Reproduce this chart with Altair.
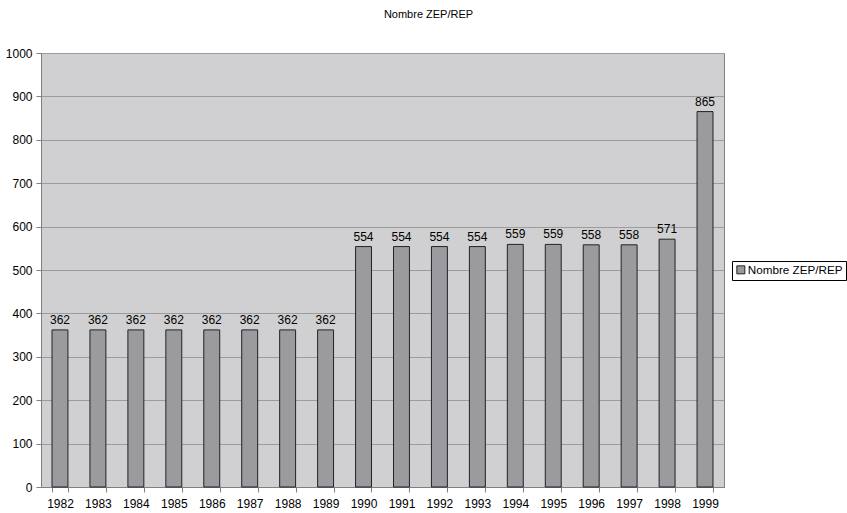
import altair as alt
import pandas as pd

years = [str(y) for y in range(1982, 2000)]
values = [362, 362, 362, 362, 362, 362, 362, 362, 554, 554, 554, 554, 559, 559, 558, 558, 571, 865]
series = "Nombre ZEP/REP"

df = pd.DataFrame({"annee": years, "valeur": values, "serie": [series] * len(years)})

FONT = "Liberation Sans"

x = alt.X("annee:O", title=None, sort=years,
          scale=alt.Scale(paddingInner=0.58, paddingOuter=0.29),
          axis=alt.Axis(labelAngle=0, tickBand="extent", labelFontSize=12, labelFont=FONT,
                        labelColor="#000000", tickColor="#808080", domainColor="#808080",
                        tickSize=5, labelPadding=6))
y = alt.Y("valeur:Q", title=None,
          scale=alt.Scale(domain=[0, 1000], nice=False),
          axis=alt.Axis(values=list(range(0, 1001, 100)), format="d", labelFontSize=12, labelFont=FONT,
                        labelColor="#000000", tickColor="#808080", domainColor="#808080",
                        gridColor="#9c9c9c", tickSize=5, labelPadding=4))

bars = alt.Chart(df).mark_bar(stroke="#222222", strokeWidth=1).encode(
    x=x, y=y,
    color=alt.Color("serie:N", title=None,
                    scale=alt.Scale(domain=[series], range=["#9b9b9f"]),
                    legend=alt.Legend(orient="none", legendX=691, legendY=208,
                                      symbolType="square", symbolSize=64,
                                      symbolStrokeColor="#222222", symbolStrokeWidth=1,
                                      labelFontSize=11.7, labelFont=FONT, labelColor="#000000",
                                      strokeColor="#000000", padding=3, labelOffset=1))
)

labels = alt.Chart(df).mark_text(dy=-10, fontSize=12, font=FONT, color="#000000").encode(
    x=alt.X("annee:O", sort=years), y="valeur:Q", text="valeur:Q"
)

chart = (bars + labels).properties(
    width=683, height=434,
    autosize=alt.AutoSizeParams(type="none"),
    padding={"left": 41, "top": 53, "right": 123, "bottom": 26},
    title=alt.TitleParams(series, fontSize=11, font=FONT, fontWeight="normal",
                          color="#000000", anchor="middle", dx=46, offset=27),
    background="#ffffff",
).configure_view(fill="#d0d0d2", stroke="#808080")

chart.save("out.html", embed_options={"renderer": "svg", "actions": False})
